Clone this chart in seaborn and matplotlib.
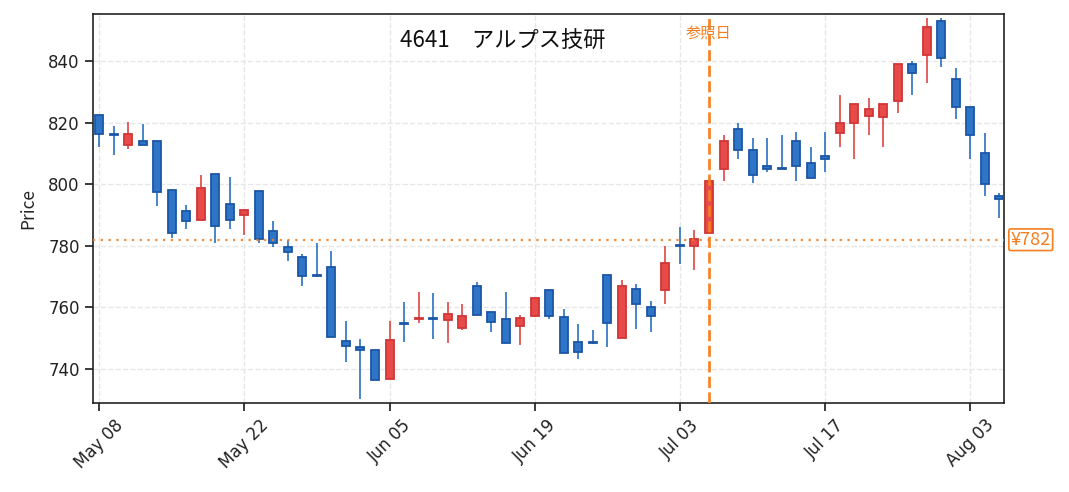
import matplotlib
matplotlib.use("Agg")
import matplotlib.pyplot as plt
import matplotlib.transforms as mtransforms
import numpy as np
import pandas as pd
import seaborn as sns

# --- data ---
code = "4641"
name = "アルプス技研"
ref_price = 782
ref_index = 42
ref_label = "参照日"
tick_labels = ["May 08", "May 22", "Jun 05", "Jun 19", "Jul 03", "Jul 17", "Aug 03"]

opens = [822.5, 816.5, 812.7, 814.2, 814.2, 798.0, 791.4, 788.3, 803.2, 793.5,
         790.0, 797.9, 784.9, 779.7, 776.4, 770.5, 773.2, 749.2, 747.2, 746.2,
         736.8, 754.9, 756.2, 756.6, 755.9, 753.2, 767.0, 758.6, 756.1, 753.9,
         757.3, 765.8, 756.9, 748.7, 748.8, 770.6, 750.0, 766.0, 760.2, 765.8,
         780.2, 779.9, 784.3, 804.9, 818.0, 811.2, 806.0, 805.1, 814.1, 807.0,
         809.3, 816.8, 819.8, 822.1, 822.0, 827.1, 839.1, 842.1, 853.1, 834.3,
         825.2, 810.2, 796.3]
highs = [822.5, 818.9, 820.2, 819.5, 814.2, 798.0, 793.2, 803.0, 803.2, 802.3,
         791.5, 797.9, 788.1, 781.8, 777.5, 780.8, 778.2, 755.5, 749.7, 746.2,
         755.5, 761.7, 765.0, 764.6, 761.7, 761.0, 768.2, 758.6, 765.0, 757.4,
         763.1, 765.8, 759.4, 754.7, 752.6, 770.6, 769.0, 767.7, 762.0, 779.9,
         786.0, 785.1, 801.1, 815.9, 819.8, 815.0, 815.0, 815.9, 817.0, 812.0,
         817.0, 828.9, 826.0, 828.0, 826.1, 839.1, 839.9, 854.0, 854.0, 837.9,
         825.2, 816.8, 797.1]
lows = [812.2, 809.6, 811.5, 812.7, 793.0, 782.6, 785.5, 788.3, 781.0, 785.5,
        783.5, 781.0, 779.6, 775.2, 767.0, 770.2, 750.3, 742.3, 730.4, 736.5,
        736.8, 748.8, 755.0, 749.8, 748.5, 752.8, 757.7, 752.1, 748.6, 747.9,
        756.9, 756.3, 745.1, 743.2, 748.1, 747.1, 750.0, 753.0, 752.0, 761.1,
        774.1, 772.1, 784.3, 801.1, 808.3, 800.3, 804.1, 804.9, 801.1, 802.0,
        804.1, 812.2, 808.3, 816.1, 812.2, 823.2, 829.1, 833.0, 838.2, 821.3,
        808.3, 796.3, 789.1]
closes = [816.3, 816.0, 816.4, 812.7, 797.4, 784.2, 788.1, 798.7, 786.6, 788.3,
          791.5, 782.4, 781.1, 778.0, 770.2, 770.2, 750.3, 747.5, 746.2, 736.5,
          749.5, 754.6, 756.6, 756.3, 757.9, 757.3, 757.7, 755.4, 748.6, 756.7,
          763.1, 757.1, 745.1, 745.7, 748.6, 755.1, 767.0, 761.0, 757.1, 774.3,
          779.9, 782.4, 801.1, 814.1, 811.1, 803.0, 804.9, 804.9, 805.9, 802.0,
          808.2, 820.0, 826.0, 824.3, 826.1, 839.1, 836.2, 851.1, 840.9, 825.0,
          816.0, 800.1, 795.2]

df = pd.DataFrame({"open": opens, "high": highs, "low": lows, "close": closes})
df["idx"] = np.arange(len(df))
df["up"] = df["close"] >= df["open"]

UP_FILL, UP_EDGE, UP_WICK = "#e84a4a", "#d13535", "#e04444"
DN_FILL, DN_EDGE, DN_WICK = "#2e75c8", "#1b56a6", "#2a6fc2"
ORANGE = "#f57f20"

sns.set_theme(style="whitegrid", rc={
    "axes.edgecolor": "#222222",
    "axes.linewidth": 1.2,
    "grid.linestyle": "--",
    "grid.color": "#e6e6e6",
    "grid.linewidth": 1.0,
    "xtick.bottom": True,
    "ytick.left": True,
    "xtick.color": "#222222",
    "ytick.color": "#222222",
})
plt.rcParams["font.family"] = ["Noto Sans CJK JP", "DejaVu Sans"]

fig, ax = plt.subplots(figsize=(10.69, 4.92), dpi=100)
fig.subplots_adjust(left=0.087, right=0.939, top=0.9715, bottom=0.181)

# wicks then bodies (red = up, blue = down)
wick_colors = np.where(df["up"], UP_WICK, DN_WICK)
ax.vlines(df["idx"], df["low"], df["high"], colors=wick_colors, linewidth=1.2, zorder=2)

body_bottom = df[["open", "close"]].min(axis=1)
body_height = (df["close"] - df["open"]).abs().clip(lower=0.3)
ax.bar(df["idx"], body_height, bottom=body_bottom, width=0.55,
       color=np.where(df["up"], UP_FILL, DN_FILL),
       edgecolor=np.where(df["up"], UP_EDGE, DN_EDGE),
       linewidth=1.3, zorder=3)

# reference lines
ax.axhline(ref_price, color=ORANGE, linestyle=(0, (1, 2.5)), linewidth=1.6, alpha=0.9, zorder=4)
ax.axvline(ref_index, color=ORANGE, linestyle=(0, (4, 1.6)), linewidth=2.0, alpha=0.95, zorder=4)
ax.text(ref_index, 0.951, ref_label, transform=mtransforms.blended_transform_factory(ax.transData, ax.transAxes),
        ha="center", va="center", color=ORANGE, fontsize=11)
ax.text(1.0075, ref_price, f"¥{ref_price}",
        transform=mtransforms.blended_transform_factory(ax.transAxes, ax.transData),
        ha="left", va="center", color=ORANGE, fontsize=13, clip_on=False,
        bbox=dict(boxstyle="round,pad=0.1", facecolor="white", edgecolor=ORANGE, linewidth=1.2))

ax.text(0.45, 0.93, f"{code}\u3000{name}", transform=ax.transAxes, ha="center", va="center",
        fontsize=16, color="#111111")

ax.set_xlim(-0.42, 62.3)
ax.set_ylim(729.0, 855.3)
ax.set_yticks(np.arange(740, 841, 20))
ax.set_xticks(np.arange(0, len(df), 10))
ax.set_xticklabels(tick_labels, rotation=45, fontsize=12, family=["DejaVu Sans"])
ax.set_yticklabels([str(v) for v in np.arange(740, 841, 20)], fontsize=12, family=["DejaVu Sans"])
ax.set_ylabel("Price", fontsize=12.5, labelpad=8)
ax.set_xlabel("")

fig.savefig("out.png", dpi=100)
